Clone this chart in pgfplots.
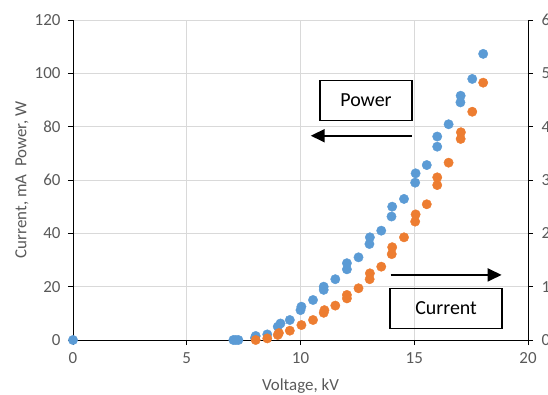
\documentclass[border=0pt]{standalone}
\usepackage{fontspec}
\setmainfont{Carlito}
\usepackage{pgfplots}
\pgfplotsset{compat=1.18}
\usetikzlibrary{arrows.meta}
\definecolor{blueS}{HTML}{5B9BD5}
\definecolor{orangeS}{HTML}{ED7D31}
\definecolor{tickgray}{HTML}{595959}
\definecolor{gridgray}{HTML}{D9D9D9}
\begin{document}
\begin{tikzpicture}
\pgfplotsset{
 every axis/.append style={
  scale only axis, width=455bp, height=320bp,
  xmin=0, xmax=20,
  tick label style={font=\fontsize{17}{20}\selectfont, text=tickgray},
  /pgf/number format/assume math mode=true,
  major tick length=5bp,
  tick style={black, line width=0.9bp},
  tick align=outside,
  axis line style={black, line width=1bp},
 }
}
\begin{axis}[
 ymin=0, ymax=120, ytick={0,20,...,120},
 xtick={0,5,...,20},
 axis y line*=left, axis x line*=bottom,
 grid=major, grid style={gridgray, line width=0.8bp},
 xlabel={Voltage, kV}, ylabel={Current, mA\ \ Power, W},
 xlabel style={font=\fontsize{17}{20}\selectfont, text=tickgray,
   at={(axis description cs:0.5,-0.159)}, anchor=base},
 ylabel style={font=\fontsize{17}{20}\selectfont, text=tickgray,
   at={(axis description cs:-0.112,0.5)}, anchor=center},
 yticklabel style={xshift=-4bp},
 xticklabel style={yshift=-4bp},
 clip=false,
]
\coordinate (BL) at (rel axis cs:0,0);
\coordinate (TR) at (rel axis cs:1,1);
\addplot[only marks, mark=*, mark size=4.7bp, color=blueS] coordinates {
(0,0) (7.05,0) (7.15,0) (7.27,0) (8.0,0.8) (8.03,1.5) (8.54,2.1)
(9.0,5) (9.12,6.2) (9.53,7.5) (10.0,11.2) (10.04,12.5) (10.55,15)
(11.02,18.8) (11.02,20) (11.53,22.8) (12.04,26.5) (12.04,28.8) (12.55,31)
(13.03,36) (13.05,38.5) (13.55,41) (14.0,46.3) (14.03,50) (14.55,52.9)
(15.04,59) (15.06,62.5) (15.55,65.6) (16.01,72.5) (16.01,76.3) (16.51,80.9)
(17.03,89.1) (17.04,91.6) (17.55,97.9) (18.03,107.3)
};
\node[draw, line width=1.3bp, minimum width=92bp, minimum height=40bp, inner sep=0pt,
 font=\fontsize{20}{24}\selectfont] at (axis cs:12.88,89.85) {Power};
\draw[line width=2bp, -{Triangle[length=14bp, width=13bp]}] (axis cs:14.9,76.6) -- (axis cs:10.45,76.6);
\node[draw, line width=1.3bp, minimum width=112bp, minimum height=40bp, inner sep=0pt,
 font=\fontsize{20}{24}\selectfont] at (axis cs:16.4,11.9) {Current};
\draw[line width=2bp, -{Triangle[length=14bp, width=13bp]}] (axis cs:13.96,24.4) -- (axis cs:18.84,24.4);
\end{axis}
\begin{axis}[
 ymin=0, ymax=6, ytick={0,1,...,6},
 axis y line*=right, axis x line=none,
 yticklabel style={xshift=5bp},
]
\addplot[only marks, mark=*, mark size=4.7bp, color=orangeS] coordinates {
(8.03,0) (8.54,0.03) (9.0,0.095) (9.05,0.13) (9.53,0.175) (10.04,0.28)
(10.55,0.375) (11.02,0.51) (11.05,0.56) (11.53,0.645) (12.04,0.78) (12.04,0.845)
(12.55,0.97) (13.04,1.14) (13.05,1.25) (13.55,1.375) (14.01,1.61) (14.03,1.74)
(14.55,1.925) (15.04,2.22) (15.06,2.355) (15.55,2.545) (16.01,2.905) (16.01,3.05)
(16.51,3.325) (17.04,3.77) (17.05,3.895) (17.55,4.28) (18.03,4.825)
};
\end{axis}
\pgfresetboundingbox
\path[use as bounding box] ([xshift=-73bp,yshift=-55bp]BL) rectangle ([xshift=20bp,yshift=20bp]TR);
\end{tikzpicture}
\end{document}
